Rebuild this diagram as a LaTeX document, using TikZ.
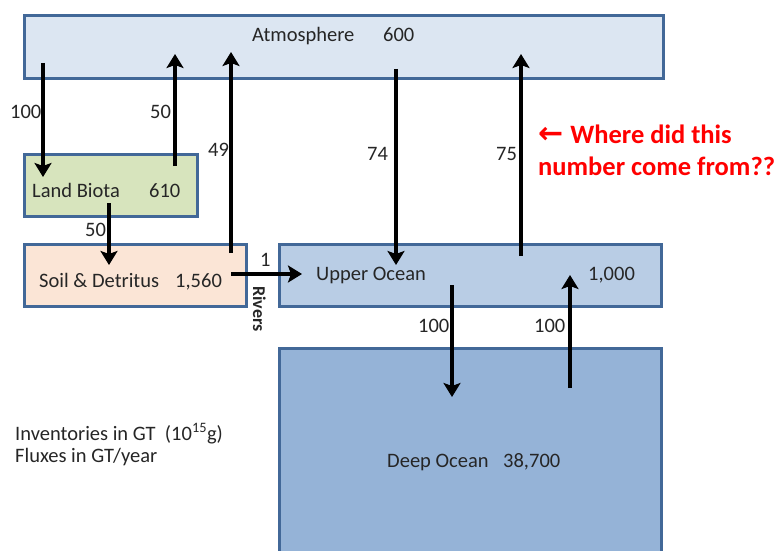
\documentclass[tikz,border=0pt]{standalone}
\usepackage{fontspec}
\setmainfont{Carlito}
\newfontfamily\symfont{DejaVu Sans}
\usetikzlibrary{arrows.meta}
\definecolor{edgeblue}{RGB}{66,104,152}
\definecolor{atmfill}{RGB}{220,230,242}
\definecolor{landfill}{RGB}{215,228,189}
\definecolor{soilfill}{RGB}{251,229,214}
\definecolor{upfill}{RGB}{185,205,229}
\definecolor{deepfill}{RGB}{149,179,215}
\definecolor{txt}{RGB}{38,38,38}
\definecolor{alert}{RGB}{255,0,0}
\tikzset{
  box/.style={draw=edgeblue, line width=2.6pt, anchor=north west, inner sep=0pt},
  lbl/.style={anchor=base west, inner sep=0pt, text=txt, font=\fontsize{20.5}{24}\selectfont},
  flux/.style={line width=4pt, -{Stealth[length=14pt,width=17pt,inset=3pt]}},
  note/.style={anchor=base west, inner sep=0pt, text=alert, font=\fontsize{26.5}{32}\selectfont\bfseries}
}
\begin{document}
\begin{tikzpicture}[x=1pt,y=-1pt]
\useasboundingbox (0,0) rectangle (779,551);
\clip (0,0) rectangle (779,551);
\fill[white] (0,0) rectangle (779,551);
% boxes
\node[box, fill=atmfill, minimum width=639pt, minimum height=63pt] (atm) at (23,14) {};
\node[box, fill=landfill, minimum width=173pt, minimum height=62pt] (land) at (23,153) {};
\node[box, fill=soilfill, minimum width=222pt, minimum height=62pt] (soil) at (23,243) {};
\node[box, fill=upfill, minimum width=382pt, minimum height=62pt] (upper) at (278,243) {};
\node[box, fill=deepfill, minimum width=382pt, minimum height=240pt] (deep) at (278,347) {};
% box texts
\node[lbl] (tatm) at (252,42) {Atmosphere};
\node[lbl] (vatm) at (383,42) {600};
\node[lbl] (tland) at (32,197) {Land Biota};
\node[lbl] (vland) at (149,197) {610};
\node[lbl] (tsoil) at (39,287) {Soil \& Detritus};
\node[lbl] (vsoil) at (175,287) {1,560};
\node[lbl] (tup) at (316,280) {Upper Ocean};
\node[lbl] (vup) at (588,280) {1,000};
\node[lbl] (tdeep) at (387,467) {Deep Ocean};
\node[lbl] (vdeep) at (503,467) {38,700};
% arrow end points
\coordinate (a1s) at (43,63);   \coordinate (a1e) at (43,177);
\coordinate (a2s) at (175,166); \coordinate (a2e) at (175,54);
\coordinate (a3s) at (231,253); \coordinate (a3e) at (231,52);
\coordinate (a4s) at (109,203); \coordinate (a4e) at (109,265);
\coordinate (a5s) at (231,274); \coordinate (a5e) at (302,274);
\coordinate (a6s) at (396,69);  \coordinate (a6e) at (396,265);
\coordinate (a7s) at (521,256); \coordinate (a7e) at (521,54);
\coordinate (a8s) at (452,285); \coordinate (a8e) at (452,397);
\coordinate (a9s) at (570,388); \coordinate (a9e) at (570,275);
\draw[flux] (a1s) -- (a1e);
\draw[flux] (a2s) -- (a2e);
\draw[flux] (a3s) -- (a3e);
\draw[flux] (a4s) -- (a4e);
\draw[flux] (a5s) -- (a5e);
\draw[flux] (a6s) -- (a6e);
\draw[flux] (a7s) -- (a7e);
\draw[flux] (a8s) -- (a8e);
\draw[flux] (a9s) -- (a9e);
% flux labels
\node[lbl] (f1) at (10,118) {100};
\node[lbl] (f2) at (150,118) {50};
\node[lbl] (f3) at (208,156) {49};
\node[lbl] (f4) at (85,236) {50};
\node[lbl] (f5) at (260,266) {1};
\node[lbl, font=\fontsize{18}{20}\selectfont\bfseries, rotate=-90, anchor=north west] (riv) at (266,286) {Rivers};
\node[lbl] (f6) at (367,160) {74};
\node[lbl] (f7) at (496,160) {75};
\node[lbl] (f8) at (418,332) {100};
\node[lbl] (f9) at (534,332) {100};
% notes
\node[note] (q1) at (538,143) {{\symfont\bfseries\fontsize{30}{32}\selectfont ←}\hspace{7pt}Where did this};
\node[note] (q2) at (538,175) {number come from??};
\node[lbl, anchor=base west] (inv) at (15,440) {Inventories in GT\ \ (10\textsuperscript{15}g)};
\node[lbl, anchor=base west] (flx) at (15,462) {Fluxes in GT/year};
\end{tikzpicture}
\end{document}
